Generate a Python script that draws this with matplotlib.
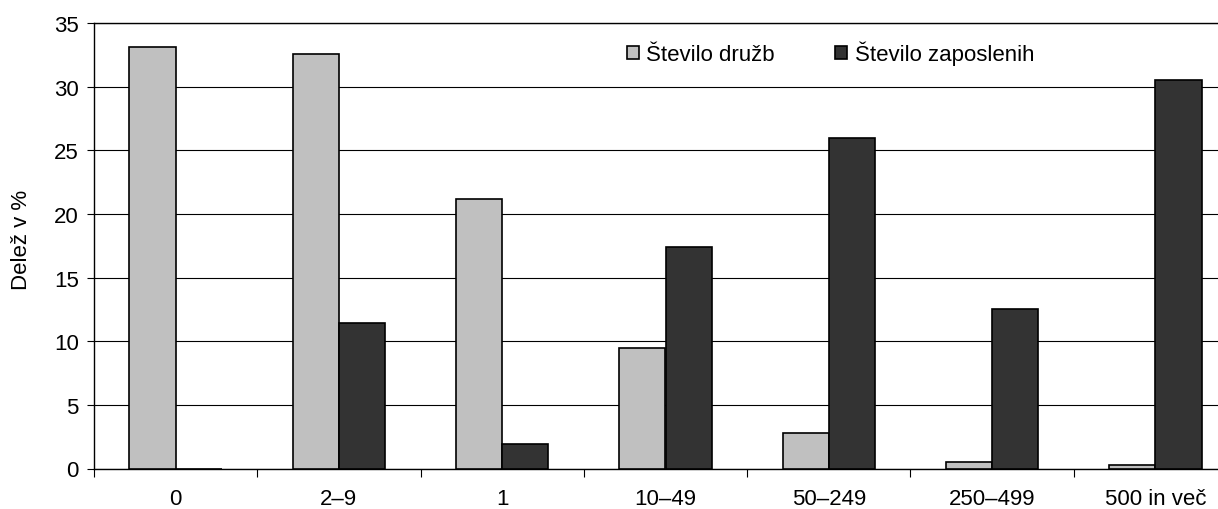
import matplotlib
matplotlib.use("Agg")
import matplotlib.pyplot as plt
import numpy as np
from matplotlib.patches import Patch

plt.rcParams['font.family'] = ['Liberation Sans', 'DejaVu Sans']

categories = ["0", "2–9", "1", "10–49", "50–249", "250–499", "500 in več"]
stevilo_druzb = [33.1, 32.6, 21.2, 9.5, 2.8, 0.5, 0.3]
stevilo_zaposlenih = [0.0, 11.4, 1.9, 17.4, 26.0, 12.5, 30.5]
series_names = ["Število družb", "Število zaposlenih"]
y_ticks = [0, 5, 10, 15, 20, 25, 30, 35]

FS = 16
W, H = 1218, 510
fig = plt.figure(figsize=(W / 100, H / 100), dpi=100)
left, right = 94 / W, 1237 / W
bottom, top = 1 - 469.5 / H, 1 - 24 / H
ax = fig.add_axes([left, bottom, right - left, top - bottom])

x = np.arange(len(categories))
bw = 0.283
ax.bar(x - bw / 2, stevilo_druzb, width=bw, color="#C0C0C0", edgecolor="black", linewidth=1.2, zorder=3)
ax.bar(x + bw / 2, stevilo_zaposlenih, width=bw, color="#333333", edgecolor="black", linewidth=1.2, zorder=3)

ax.set_xlim(-0.5, len(categories) - 0.5)
ax.set_ylim(0, 35)
ax.set_yticks(y_ticks)
ax.yaxis.grid(True, color="black", linewidth=0.8, zorder=0)
ax.set_axisbelow(True)

ax.set_xticks(x)
ax.set_xticklabels(categories, fontsize=FS)
ax.set_xticks(np.arange(len(categories) + 1) - 0.5, minor=True)
ax.tick_params(axis="x", which="major", length=0, pad=14)
ax.tick_params(axis="x", which="minor", length=6, width=0.8, color="black")
ax.tick_params(axis="y", length=5, width=0.8, labelsize=FS, pad=6)

for s in ["left", "bottom", "top"]:
    ax.spines[s].set_linewidth(1)
    ax.spines[s].set_color("black")
ax.spines["right"].set_visible(False)

ax.set_ylabel("Delež v %", fontsize=FS)
ax.yaxis.set_label_coords((32 - 94) / (1237 - 94), (469.5 - 240) / 445.5)

handles = [Patch(facecolor="#C0C0C0", edgecolor="black", linewidth=1.2),
           Patch(facecolor="#333333", edgecolor="black", linewidth=1.2)]
ax.legend(handles, series_names, loc="upper left",
          bbox_to_anchor=((618 - 94) / (1237 - 94), 1.0 - 9 / 445.5),
          ncol=2, frameon=False, fontsize=FS, handlelength=0.53, handleheight=0.53,
          handletextpad=0.35, columnspacing=2.7, borderaxespad=0)

fig.savefig("out.png", dpi=100)
